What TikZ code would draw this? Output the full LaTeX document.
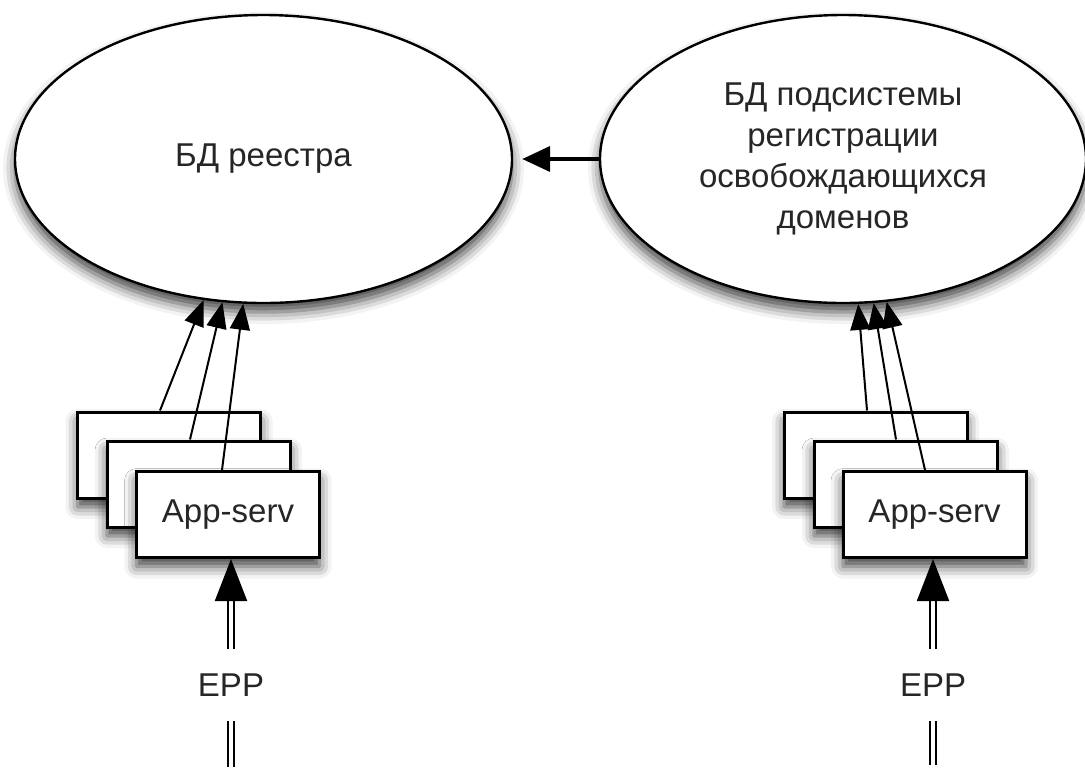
\documentclass[tikz,border=0pt]{standalone}
\usepackage{fontspec}
\setmainfont{Liberation Sans}
\usetikzlibrary{arrows.meta,shapes.geometric,shadows.blur}

\begin{document}
\begin{tikzpicture}[x=0.5pt,y=-0.5pt]
                \tikzstyle{every node}+=[font=\fontsize{16.5}{20.5}\selectfont, text=black!85]
                \tikzstyle{softshadow}=[blur shadow={shadow xshift=0pt, shadow yshift=-4.5pt, shadow blur radius=6pt, shadow opacity=75}]
                \tikzstyle{db}=[draw=black, line width=1.2pt, fill=white, ellipse, inner sep=0pt, align=center, softshadow]
                \tikzstyle{appbox}=[draw=black, line width=1.5pt, fill=white, rectangle, minimum width=91.5pt, minimum height=43pt, inner sep=0pt, softshadow]
                \tikzstyle{link}=[draw=black, line width=1pt, -{Triangle[length=13pt,width=10pt]}]
                \tikzstyle{epp}=[draw=black, double, double distance=2pt, line width=1pt]
                \useasboundingbox (0,0) rectangle (1085,767);
                % databases
                \node [db, minimum width=248.5pt, minimum height=144pt] (reg) at (263.5,159) {БД реестра};
                \node [db, minimum width=243pt, minimum height=144pt] (free) at (843,159) {БД подсистемы\\регистрации\\освобождающихся\\доменов};
                \draw [line width=2pt, -{Triangle[length=14pt,width=12.5pt]}, shorten >=4.5pt] (free.west) -- (reg.east);
                % left servers
                \node [appbox] (lb1) at (169,455) {};
                \node [appbox] (lb2) at (198.5,484) {};
                \node [appbox] (lb3) at (228,514.5) {App-serv};
                \draw [link] ([xshift=-4.5pt]lb1.north) -- (reg.247.3);
                \draw [link] ([xshift=-4.25pt]lb2.north) -- (reg.254.6);
                \draw [link] ([xshift=-3pt]lb3.north) -- (reg.262);
                % right servers
                \node [appbox] (rb1) at (875.5,455) {};
                \node [appbox] (rb2) at (905.5,484) {};
                \node [appbox] (rb3) at (934.5,514.5) {App-serv};
                \draw [link] ([xshift=-4.25pt]rb1.north) -- (free.276.6);
                \draw [link] ([xshift=-4.75pt]rb2.north) -- (free.282.3);
                \draw [link] ([xshift=-4.75pt]rb3.north) -- (free.287.7);
                % EPP inputs
                \node [inner ysep=12pt] (lepp) at (231,685) {EPP};
                \node [inner ysep=12pt] (repp) at (933,685) {EPP};
                \coordinate (lend) at (231,767);
                \coordinate (rend) at (933,765);
                \draw [epp, -{Triangle[length=21pt,width=16pt]}] (lepp) -- (lepp |- lb3.south);
                \draw [epp, -{Triangle[length=21pt,width=16pt]}] (repp) -- (repp |- rb3.south);
                \draw [epp] (lepp) -- (lend);
                \draw [epp] (repp) -- (rend);
\end{tikzpicture}
\end{document}
